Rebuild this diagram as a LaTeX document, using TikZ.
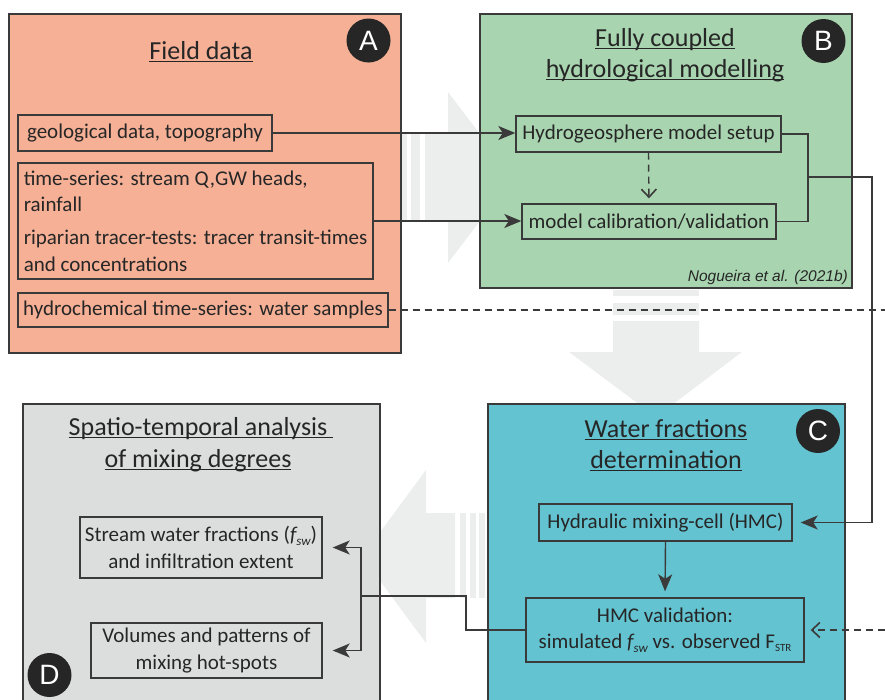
\documentclass[tikz,border=0pt]{standalone}
\usepackage{fontspec}
\setmainfont{Carlito}
\newfontfamily\arialfont{Liberation Sans}
\usetikzlibrary{arrows.meta,calc}
\definecolor{cA}{RGB}{245,176,150}
\definecolor{cB}{RGB}{168,213,176}
\definecolor{cC}{RGB}{99,195,208}
\definecolor{cD}{RGB}{220,221,221}
\definecolor{garr}{RGB}{236,237,237}
\definecolor{ln}{RGB}{58,58,58}
\definecolor{txt}{RGB}{38,38,38}
\definecolor{badgec}{RGB}{38,38,38}
\newcommand\ulin[1]{\setbox0=\hbox{#1}\rlap{\rule[-3.2pt]{\wd0}{1.3pt}}\box0}
\newcommand\fsw{{\itshape f}\raisebox{-3.5pt}{\fontsize{13}{13}\selectfont\itshape sw}}
\newcommand\Fstr{F\raisebox{-3pt}{\fontsize{11}{11}\selectfont STR}}
\begin{document}
\begin{tikzpicture}[x=1pt,y=-1pt,
 panel/.style={draw=ln, line width=1.8pt, anchor=north west, inner sep=0pt},
 title/.style={font=\fontsize{26}{31}\selectfont, text=txt, anchor=base, inner sep=0pt},
 box/.style={draw=ln, line width=1.4pt, font=\fontsize{21}{26.5}\selectfont, text=txt, inner sep=0pt},
 badge/.style={circle, fill=badgec, minimum size=44pt, inner sep=0pt, text=white, font=\arialfont\fontsize{28}{28}\selectfont},
 conn/.style={draw=ln, line width=1.4pt},
 arr/.style={-{Stealth[length=17pt,width=14pt,inset=4.5pt]}},
 oarr/.style={-{Straight Barb[length=8pt,width=15pt,line width=1.6pt]}},
 dsh/.style={dash pattern=on 7pt off 5pt}
]
\useasboundingbox (0,0) rectangle (885,699);
\clip (0,0) rectangle (885,699);
% background arrows
\fill[garr] (425,134) -- (448,134) -- (448,92) -- (513,177.5) -- (448,263) -- (448,220) -- (425,220) -- cycle;
\fill[garr] (411,134) rectangle (420,220);
\fill[garr] (400,134) rectangle (407,220);
\fill[garr] (613,321) -- (613,352) -- (569,352) -- (656,417) -- (742,352) -- (699,352) -- (699,321) -- cycle;
\fill[garr] (613,303) rectangle (699,315);
\fill[garr] (613,290) rectangle (699,296);
\fill[garr] (455,513) -- (426,513) -- (426,470) -- (362,556.5) -- (426,643) -- (426,598) -- (455,598) -- cycle;
\fill[garr] (460,513) rectangle (466,598);
\fill[garr] (470,513) rectangle (476,598);
\fill[garr] (479,513) rectangle (485,598);
% panels
\node[panel, fill=cA, minimum width=392pt, minimum height=339pt] (pA) at (8,13) {};
\node[panel, fill=cB, minimum width=372pt, minimum height=274pt] (pB) at (479,13) {};
\node[panel, fill=cC, minimum width=357pt, minimum height=310pt] (pC) at (487,403) {};
\node[panel, fill=cD, minimum width=357pt, minimum height=310pt] (pD) at (22,403) {};
% badges
\node[badge] (bA) at (368.5,40.5) {A};
\node[badge] (bB) at (823.5,41) {B};
\node[badge] (bC) at (818,431) {C};
\node[badge] (bD) at (49.5,675) {D};
% titles
\node[title] (tA) at (201,59) {\ulin{Field data}};
\node[title] (tB1) at (665,46) {\ulin{Fully coupled}};
\node[title] (tB2) at (665,77) {\ulin{hydrological modelling}};
\node[title] (tC1) at (666,437) {\ulin{Water fractions}};
\node[title] (tC2) at (666,468) {\ulin{determination}};
\node[title] (tD1) at (201,435) {\ulin{Spatio-temporal analysis\ }};
\node[title] (tD2) at (198,467) {\ulin{of mixing degrees}};
% boxes
\node[box, minimum width=254pt, minimum height=36pt] (geo) at (145,133) {geological data, topography};
\node[box, align=left, minimum width=355pt, minimum height=116pt] (ts) at (195.5,221) {time-series: stream Q,GW heads,\\ rainfall\\[6.5pt] riparian tracer-tests: tracer transit-times\\ and concentrations};
\node[box, minimum width=370pt, minimum height=34pt] (hyd) at (203,310) {hydrochemical time-series: water samples};
\node[box, minimum width=265pt, minimum height=36pt] (setup) at (648.5,134) {Hydrogeosphere model setup};
\node[box, minimum width=254pt, minimum height=35pt] (cal) at (649,221.5) {model calibration/validation};
\node[box, minimum width=253pt, minimum height=37pt] (hmc) at (665.5,522.5) {Hydraulic mixing-cell (HMC)};
\node[box, align=center, minimum width=278pt, minimum height=64pt] (val) at (665,630) {HMC validation:\\ simulated \fsw{} vs. observed \Fstr};
\node[box, align=center, minimum width=242pt, minimum height=61pt] (str) at (201,547.5) {Stream water fractions (\fsw)\\ and infiltration extent};
\node[box, align=center, minimum width=231pt, minimum height=55pt] (vol) at (206.5,650.5) {Volumes and patterns of\\ mixing hot-spots};
\node[font=\arialfont\itshape\fontsize{15.5}{15.5}\selectfont, text=txt, anchor=base east, inner sep=0pt] (cite) at (848,281) {Nogueira et al. (2021b)};
% coordinates
\coordinate (jB) at (808,177);
\coordinate (rB) at (872,177);
\coordinate (eH) at (885,310);
\coordinate (eV) at (885,630);
\coordinate (kD) at (466,596);
\coordinate (jD) at (361,596);
% connectors
\draw[conn,arr] (geo.east) -- (geo.east -| setup.west);
\draw[conn,arr] (ts.east) -- (ts.east -| cal.west);
\draw[conn,oarr,dsh,shorten >=5pt] (setup.south) -- (cal.north);
\draw[conn] (setup.east) -| (jB) |- (cal.east);
\draw[conn,arr,shorten >=8pt] (jB) -- (rB) |- (hmc.east);
\draw[conn,dsh] (hyd.east) -- (eH);
\draw[conn,dsh,oarr,shorten >=6pt] (eV) -- (val.east);
\draw[conn,arr,shorten >=6pt] (hmc.south) -- (val.north);
\draw[conn] (val.west) -| (kD) -- (jD);
\draw[conn,arr,shorten >=10pt] (jD) |- (str.east);
\draw[conn,arr,shorten >=10pt] (jD) |- (vol.east);
\end{tikzpicture}
\end{document}
